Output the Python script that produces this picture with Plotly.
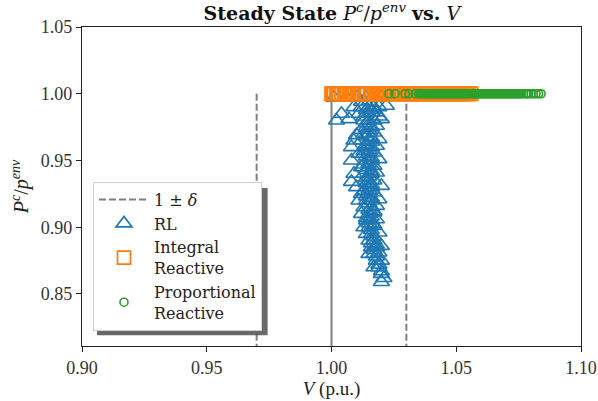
import plotly.graph_objects as go

# RL steady-state points (V, P^c/p^env)
rl_v = [1.001, 1.006, 1.010, 1.014, 1.016, 1.018, 1.020, 1.012, 1.015,
        1.009, 1.012, 1.015, 1.017, 1.019, 1.022, 1.014, 1.016,
        1.004, 1.011, 1.014, 1.016, 1.018, 1.013, 1.019,
        1.002, 1.007, 1.013, 1.015, 1.017, 1.020, 1.014,
        1.014, 1.016, 1.018, 1.015, 1.012,
        1.010, 1.013, 1.015, 1.017, 1.014, 1.016,
        1.009, 1.012, 1.015, 1.016, 1.019, 1.014,
        1.008, 1.014, 1.016, 1.018, 1.015, 1.013,
        1.011, 1.013, 1.015, 1.017, 1.014, 1.016,
        1.008, 1.014, 1.016, 1.019, 1.015, 1.013,
        1.012, 1.015, 1.017, 1.014, 1.016,
        1.009, 1.013, 1.016, 1.018, 1.015, 1.014,
        1.008, 1.015, 1.017, 1.014, 1.016,
        1.010, 1.014, 1.016, 1.020, 1.015, 1.013,
        1.012, 1.015, 1.017, 1.014, 1.016,
        1.011, 1.014, 1.016, 1.019, 1.015,
        1.013, 1.016, 1.018, 1.015, 1.017,
        1.012, 1.015, 1.017, 1.016, 1.014,
        1.014, 1.016, 1.018, 1.015, 1.017,
        1.013, 1.015, 1.017, 1.016,
        1.014, 1.016, 1.019, 1.017,
        1.015, 1.017, 1.016, 1.018,
        1.016, 1.018, 1.020, 1.017,
        1.015, 1.017, 1.019, 1.018,
        1.018, 1.020, 1.019,
        1.017, 1.019, 1.020,
        1.020, 1.021, 1.020]
rl_p = [0.997, 0.997, 0.997, 0.997, 0.997, 0.997, 0.997, 0.994, 0.994,
        0.990, 0.990, 0.990, 0.990, 0.990, 0.991, 0.988, 0.988,
        0.985, 0.985, 0.985, 0.986, 0.986, 0.983, 0.983,
        0.980, 0.981, 0.980, 0.980, 0.980, 0.981, 0.978,
        0.975, 0.975, 0.976, 0.973, 0.973,
        0.969, 0.970, 0.970, 0.971, 0.968, 0.967,
        0.965, 0.965, 0.965, 0.964, 0.966, 0.962,
        0.960, 0.960, 0.960, 0.961, 0.958, 0.957,
        0.955, 0.955, 0.955, 0.956, 0.953, 0.952,
        0.950, 0.950, 0.950, 0.951, 0.948, 0.947,
        0.945, 0.945, 0.946, 0.943, 0.942,
        0.940, 0.940, 0.940, 0.941, 0.938, 0.937,
        0.934, 0.935, 0.935, 0.933, 0.932,
        0.930, 0.930, 0.930, 0.931, 0.928, 0.927,
        0.925, 0.925, 0.926, 0.923, 0.922,
        0.920, 0.920, 0.920, 0.921, 0.918,
        0.915, 0.915, 0.916, 0.913, 0.912,
        0.910, 0.910, 0.911, 0.908, 0.907,
        0.905, 0.905, 0.906, 0.903, 0.902,
        0.900, 0.900, 0.901, 0.898,
        0.895, 0.895, 0.896, 0.893,
        0.890, 0.890, 0.888, 0.887,
        0.885, 0.885, 0.886, 0.883,
        0.880, 0.880, 0.881, 0.878,
        0.875, 0.875, 0.872,
        0.870, 0.870, 0.867,
        0.865, 0.862, 0.859]

# Integral reactive points
ir_v = [1.000, 1.0005, 1.001, 1.002, 1.0025, 1.003, 1.004, 1.005, 1.0055, 1.006,
        1.007, 1.008, 1.0085, 1.009, 1.0105, 1.011, 1.012, 1.013, 1.0135, 1.014,
        1.0155, 1.016, 1.017, 1.018, 1.0185, 1.019, 1.020, 1.021, 1.0215, 1.022,
        1.023, 1.024, 1.0245, 1.025, 1.026, 1.027, 1.0275, 1.028, 1.029, 1.030,
        1.0305, 1.031, 1.032, 1.033, 1.0335, 1.034, 1.035, 1.036, 1.0365, 1.037,
        1.038, 1.039, 1.0395, 1.040, 1.041, 1.042, 1.0425, 1.043, 1.044, 1.045,
        1.0455, 1.046, 1.047, 1.048, 1.0485, 1.049, 1.050, 1.051, 1.0515, 1.052,
        1.053, 1.054, 1.0545, 1.055, 1.056]
ir_p = [1.000] * len(ir_v)

# Proportional reactive points
pr_v = [1.023, 1.0255, 1.0295, 1.031, 1.0335, 1.035, 1.0355, 1.036, 1.0365, 1.037,
        1.0375, 1.038, 1.0385, 1.039, 1.0395, 1.040, 1.0405, 1.041, 1.0415, 1.042,
        1.0425, 1.043, 1.0435, 1.044, 1.0445, 1.045, 1.0455, 1.046, 1.0465, 1.047,
        1.0475, 1.048, 1.0485, 1.049, 1.0495, 1.050, 1.0505, 1.051, 1.0515, 1.052,
        1.0525, 1.053, 1.0535, 1.054, 1.0545, 1.055, 1.0555, 1.056, 1.0565, 1.057,
        1.0575, 1.058, 1.0585, 1.059, 1.0595, 1.060, 1.0605, 1.061, 1.0615, 1.062,
        1.0625, 1.063, 1.0635, 1.064, 1.0645, 1.065, 1.0655, 1.066, 1.0665, 1.067,
        1.0675, 1.068, 1.0685, 1.069, 1.0695, 1.070, 1.0705, 1.071, 1.0715, 1.072,
        1.0725, 1.073, 1.0735, 1.074, 1.0745, 1.075, 1.0755, 1.076, 1.077, 1.078,
        1.0785, 1.079, 1.080, 1.081, 1.082, 1.083, 1.084]
pr_p = [1.000] * len(pr_v)

delta_v = [0.97, 1.03]
nominal_v = 1.00
line_p = [0.80, 1.00]

x_ticks = [0.90, 0.95, 1.00, 1.05, 1.10]
y_ticks = [0.85, 0.90, 0.95, 1.00, 1.05]

FONT = "Liberation Serif"
WIDE = "DejaVu Serif"
GRAY = "#808080"

fig = go.Figure()

for i, dv in enumerate(delta_v):
    fig.add_trace(go.Scatter(
        x=[dv, dv], y=line_p, mode="lines",
        line=dict(color=GRAY, width=2, dash="7px,3px"),
        name="1 ± <i>δ</i>", showlegend=(i == 0), legendrank=1))

fig.add_trace(go.Scatter(
    x=[nominal_v, nominal_v], y=line_p, mode="lines",
    line=dict(color=GRAY, width=2), showlegend=False))

fig.add_trace(go.Scatter(
    x=rl_v, y=rl_p, mode="markers", name="RL", legendrank=2,
    marker=dict(symbol="triangle-up-open", size=14, color="#1f77b4",
                line=dict(width=1.6, color="#1f77b4"))))

fig.add_trace(go.Scatter(
    x=ir_v, y=ir_p, mode="markers", name="Integral<br>Reactive", legendrank=3,
    marker=dict(symbol="square-open", size=13, color="#ff7f0e",
                line=dict(width=1.8, color="#ff7f0e"))))

fig.add_trace(go.Scatter(
    x=pr_v, y=pr_p, mode="markers", name="Proportional<br>Reactive", legendrank=4,
    marker=dict(symbol="circle-open", size=8, color="#2ca02c",
                line=dict(width=1.6, color="#2ca02c"))))

axis_common = dict(showgrid=False, zeroline=False, showline=True, linecolor="#222",
                   linewidth=1.3, mirror=True, ticks="outside", ticklen=5,
                   tickwidth=1.3, tickcolor="#222", automargin=False,
                   tickfont=dict(family=FONT, size=18, color="#333"))

# legend drop shadow
fig.add_shape(type="rect", xref="paper", yref="paper", layer="above",
              x0=0.030, x1=0.372, y0=0.034, y1=0.495,
              fillcolor="#444444", opacity=0.8, line=dict(width=0))

fig.update_layout(
    width=598, height=401,
    margin=dict(l=82, r=17, t=27, b=55),
    plot_bgcolor="white", paper_bgcolor="white",
    font=dict(family=FONT, color="#222"),
    title=dict(text="<b>Steady State</b> <i>P</i><sup><i>c</i></sup>/<i>p</i><sup><i>env</i></sup> <b>vs.</b> <i>V</i>",
               x=0.555, xanchor="center", y=0.966, yanchor="middle",
               font=dict(family=WIDE, size=19, color="#111")),
    xaxis=dict(range=[0.90, 1.10], tickvals=x_ticks,
               ticktext=[f"{v:.2f}" for v in x_ticks],
               title=dict(text="<i>V</i> (p.u.)", font=dict(family=FONT, size=19), standoff=4),
               **axis_common),
    yaxis=dict(range=[0.811, 1.05], tickvals=y_ticks,
               ticktext=[f"{v:.2f}" for v in y_ticks],
               title=dict(text="<i>P</i><sup><i>c</i></sup>/<i>p</i><sup><i>env</i></sup>",
                          font=dict(family=FONT, size=20), standoff=6),
               **axis_common),
    legend=dict(x=0.022, y=0.515, xanchor="left", yanchor="top",
                bgcolor="white", bordercolor="#d0d0d0", borderwidth=1,
                font=dict(family=WIDE, size=16, color="#222"),
                itemwidth=50, tracegroupgap=0),
)

fig.write_html("out.html", config={"displayModeBar": False},
               post_script="document.body.style.margin='0';")
